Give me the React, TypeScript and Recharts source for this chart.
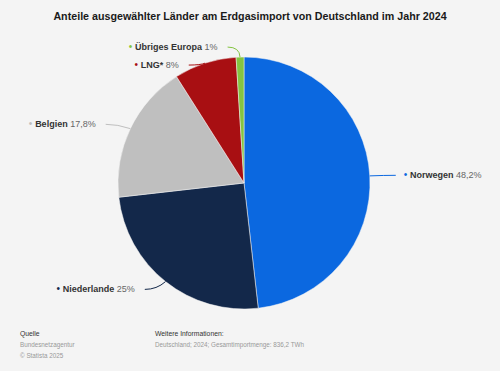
import React from 'react';
import { PieChart, Pie, Cell } from 'recharts';

const countries = ['Norwegen', 'Niederlande', 'Belgien', 'LNG*', 'Übriges Europa'];
const shares = [48.2, 25, 17.8, 8, 1];
const shareLabels = ['48,2%', '25%', '17,8%', '8%', '1%'];
const colors = ['#0b68e0', '#13284a', '#bfbfbf', '#a80f12', '#84c441'];

const data = countries.map((name, i) => ({ name, value: shares[i], label: shareLabels[i], color: colors[i] }));

const W = 500;
const H = 371;
const CX = 244;
const CY = 183;
const R = 126;
const RAD = Math.PI / 180;
const font = 'Arial, "Liberation Sans", Helvetica, sans-serif';

// label anchor per slice, with simple push-apart on each side
const total = shares.reduce((a, b) => a + b, 0);
const layout = (() => {
  let acc = 0;
  const items = shares.map((v, i) => {
    const mid = 90 - ((acc + v / 2) / total) * 360;
    acc += v;
    const cos = Math.cos(mid * RAD);
    const sin = -Math.sin(mid * RAD);
    return { i, cos, sin, right: cos >= 0, y: CY + (R + 10) * sin };
  });
  [true, false].forEach((side) => {
    const list = items.filter((it) => it.right === side).sort((a, b) => a.y - b.y);
    for (let k = 1; k < list.length; k++) {
      if (list[k].y - list[k - 1].y < 18) list[k].y = list[k - 1].y + 18;
    }
  });
  return items;
})();

const renderLabel = (props: any) => {
  const { index } = props;
  const it = layout[index];
  const d = data[index];
  const x0 = CX + R * it.cos;
  const y0 = CY + R * it.sin;
  const x1 = CX + (R + 14) * it.cos;
  const y1 = it.y;
  const x2 = x1 + (it.right ? 12 : -12);
  const tx = x2 + (it.right ? 8 : -10);
  return (
    <g key={`lbl-${index}`}>
      <path d={`M${x0},${y0} Q${x1},${y1} ${x2},${y1}`} stroke={d.color} strokeWidth={1} fill="none" />
      <text x={tx} y={y1} dy={3} textAnchor={it.right ? 'start' : 'end'} fontFamily={font} fontSize={9} fill="#333">
        <tspan fill={d.color} fontSize={10}>• </tspan>
        <tspan fontWeight="bold" fill="#333">{d.name}</tspan>
        <tspan fill="#666"> {d.label}</tspan>
      </text>
    </g>
  );
};

export default function App() {
  return (
    <div style={{ width: W, height: H, background: '#f4f4f4', position: 'absolute', left: 0, top: 0 }}>
      <PieChart width={W} height={H} margin={{ top: 0, right: 0, bottom: 0, left: 0 }}>
        <text x={250} y={20} textAnchor="middle" fontFamily={font} fontSize={10.7} fontWeight="bold" fill="#1a1a1a">
          Anteile ausgewählter Länder am Erdgasimport von Deutschland im Jahr 2024
        </text>
        <Pie
          data={data}
          dataKey="value"
          nameKey="name"
          cx={CX}
          cy={CY}
          outerRadius={R}
          startAngle={90}
          endAngle={-270}
          stroke="#f4f4f4"
          strokeWidth={0.5}
          label={renderLabel}
          labelLine={false}
          isAnimationActive={false}
        >
          {data.map((d) => (
            <Cell key={d.name} fill={d.color} />
          ))}
        </Pie>
        <text fontFamily={font} fontSize={6.3}>
          <tspan x={20} y={336} fill="#333" fontSize={6.8}>Quelle</tspan>
          <tspan x={20} y={347} fill="#999">Bundesnetzagentur</tspan>
          <tspan x={20} y={358} fill="#999">© Statista 2025</tspan>
          <tspan x={155} y={336} fill="#333" fontSize={6.8}>Weitere Informationen:</tspan>
          <tspan x={155} y={347} fill="#999">Deutschland; 2024; Gesamtimportmenge: 836,2 TWh</tspan>
        </text>
      </PieChart>
    </div>
  );
}
